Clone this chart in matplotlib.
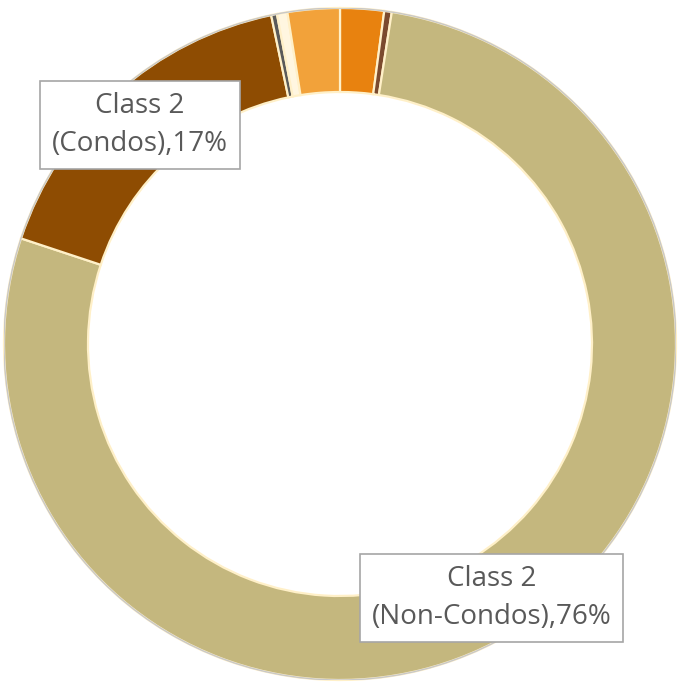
import matplotlib
matplotlib.use("Agg")
import matplotlib.pyplot as plt
from matplotlib.patches import Circle

categories = ["Other A", "Other B", "Class 2 (Non-Condos)", "Class 2 (Condos)", "Other C", "Other D", "Other E"]
values = [2.1, 0.36, 77.5, 16.6, 0.28, 0.5, 2.5]
colors = ["#E8820F", "#7B4A2E", "#C4B77E", "#8E4C02", "#5A5A5A", "#FFF6E0", "#F2A23A"]
label_texts = {"Class 2 (Condos)": "Class 2\n(Condos),17%",
               "Class 2 (Non-Condos)": "Class 2\n(Non-Condos),76%"}
label_pos = {"Class 2 (Condos)": (-0.595, 0.652),
             "Class 2 (Non-Condos)": (0.452, -0.756)}

fig = plt.figure(figsize=(6.79, 6.85), dpi=100)
ax = fig.add_axes([4/679, 5/685, 672/679, 672/685])
ax.pie(values, colors=colors, startangle=90, counterclock=False, radius=1.0,
       wedgeprops=dict(width=0.25, edgecolor="#FFF0C8", linewidth=1.6))
ax.add_patch(Circle((0, 0), 1.0, fill=False, edgecolor="#C8C8C8", linewidth=1.0))
ax.set_xlim(-1.0, 1.0)
ax.set_ylim(-1.0, 1.0)
ax.set_aspect("equal")
ax.axis("off")

for cat, txt in label_texts.items():
    x, y = label_pos[cat]
    ax.text(x, y, txt, ha="center", va="center", fontsize=20, color="#595959",
            family="Open Sans", linespacing=1.45,
            bbox=dict(boxstyle="square,pad=0.42", facecolor="white", edgecolor="#A6A6A6", linewidth=1.2))

fig.savefig("out.png", dpi=100)
